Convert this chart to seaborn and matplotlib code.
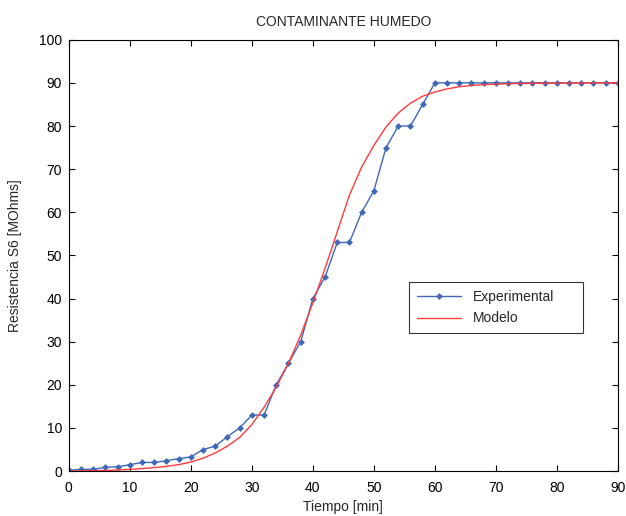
import numpy as np
import pandas as pd
import matplotlib
matplotlib.use("Agg")
import matplotlib.pyplot as plt
import seaborn as sns

# tiempo en minutos (cada 2 min)
tiempo = list(range(0, 92, 2))

experimental = [0.2, 0.4, 0.4, 0.9, 1.0, 1.5, 2.0, 2.0, 2.4, 2.9, 3.3, 5.0, 5.8, 8.0,
                10.0, 13.0, 13.0, 20.0, 25.0, 30.0, 40.0, 45.0, 53.0, 53.0, 60.0, 65.0,
                75.0, 80.0, 80.0, 85.0, 90.0, 90.0, 90.0, 90.0, 90.0, 90.0, 90.0, 90.0,
                90.0, 90.0, 90.0, 90.0, 90.0, 90.0, 90.0, 90.0]

modelo = [0.0, 0.05, 0.1, 0.15, 0.25, 0.4, 0.6, 0.8, 1.1, 1.5, 2.1, 3.0, 4.2, 5.8,
          7.8, 10.8, 14.8, 19.5, 25.0, 31.5, 39.0, 47.0, 55.5, 64.0, 70.5, 75.5,
          79.8, 83.0, 85.3, 86.9, 87.9, 88.6, 89.1, 89.4, 89.6, 89.7, 89.8, 89.85,
          89.9, 89.9, 89.95, 89.95, 90.0, 90.0, 90.0, 90.0]

df = pd.DataFrame({"Tiempo": tiempo, "Experimental": experimental, "Modelo": modelo})

sns.set_style("white")
plt.rcParams['font.family'] = ['Liberation Sans', 'DejaVu Sans']
plt.rcParams['font.size'] = 10

fig = plt.figure(figsize=(6.26, 5.16), dpi=100)
ax = fig.add_axes([0.110, 0.087, 0.877, 0.836])

sns.lineplot(data=df, x="Tiempo", y="Experimental", ax=ax, color="#3e68b8",
             marker="D", markersize=3.5, markeredgewidth=0, linewidth=1.0,
             label="Experimental")
sns.lineplot(data=df, x="Tiempo", y="Modelo", ax=ax, color="#ff3b3b",
             linewidth=1.0, label="Modelo")

ax.set_xlim(0, 90)
ax.set_ylim(0, 100)
ax.set_xticks(range(0, 91, 10))
ax.set_yticks(range(0, 101, 10))
ax.set_xlabel("Tiempo [min]", labelpad=4)
ax.set_ylabel("Resistencia S6 [MOhms]", labelpad=12)
ax.set_title("CONTAMINANTE HUMEDO", fontsize=10, pad=10)

for s in ax.spines.values():
    s.set_visible(True)
    s.set_color("black")
    s.set_linewidth(0.8)
ax.tick_params(direction="in", length=4, width=0.8, top=True, right=True,
               bottom=True, left=True, colors="black", labelsize=10)
ax.tick_params(axis="x", pad=7)
ax.tick_params(axis="y", pad=5)

leg = ax.legend(loc="lower left", bbox_to_anchor=(0.62, 0.32, 0.317, 0.128),
                mode="expand", borderaxespad=0, frameon=True, fancybox=False,
                fontsize=10, handlelength=3.2, borderpad=0.55, labelspacing=0.55)
leg.get_frame().set_edgecolor("black")
leg.get_frame().set_linewidth(0.8)

fig.savefig("out.png", dpi=100)
